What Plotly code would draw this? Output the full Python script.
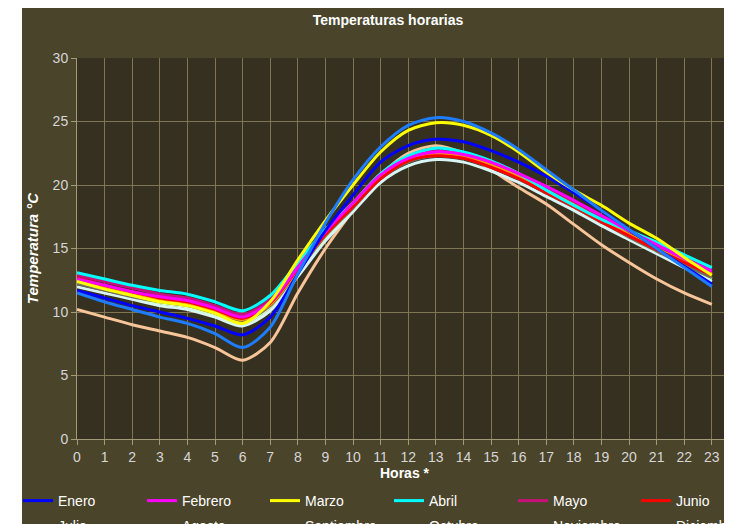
import plotly.graph_objects as go

# hours of the day
horas = list(range(24))

meses = ['Enero', 'Febrero', 'Marzo', 'Abril', 'Mayo', 'Junio',
         'Julio', 'Agosto', 'Septiembre', 'Octubre', 'Noviembre', 'Diciembre']

colores = ['#0000ff', '#ff00ff', '#ffff00', '#00ffff', '#c8107a', '#ff0000',
           '#ff9a00', '#6e6e5e', '#d4ffc8', '#d8f4f4', '#1e7cff', '#f8c49a']

enero = [11.7, 11.1, 10.5, 10.0, 9.5, 8.9, 8.2, 9.6, 13.0, 16.4, 19.2, 21.8,
         23.1, 23.6, 23.4, 22.7, 21.8, 20.7, 19.4, 18.0, 16.5, 15.0, 13.6, 12.2]
febrero = [12.6, 12.1, 11.6, 11.2, 10.9, 10.3, 9.6, 10.8, 13.5, 16.3, 18.6, 20.8,
           22.1, 22.6, 22.4, 21.8, 20.9, 19.9, 18.8, 17.6, 16.4, 15.3, 14.2, 13.2]
marzo = [12.4, 11.8, 11.3, 10.8, 10.5, 9.9, 9.1, 10.8, 14.1, 17.2, 20.0, 22.6,
         24.3, 24.9, 24.7, 23.9, 22.6, 21.0, 19.6, 18.4, 17.0, 15.8, 14.3, 12.9]
abril = [13.1, 12.6, 12.1, 11.7, 11.4, 10.8, 10.1, 11.3, 13.9, 16.5, 18.6, 20.9,
         22.3, 22.9, 22.6, 21.9, 20.9, 19.6, 18.4, 17.3, 16.4, 15.5, 14.5, 13.5]
mayo = [12.9, 12.4, 11.9, 11.4, 11.1, 10.5, 9.8, 11.0, 13.7, 16.4, 18.6, 20.9,
        22.2, 22.7, 22.5, 21.8, 20.9, 19.8, 18.7, 17.5, 16.4, 15.3, 14.3, 13.3]
junio = [12.7, 12.1, 11.6, 11.1, 10.8, 10.2, 9.5, 10.7, 13.4, 16.1, 18.3, 20.5,
         21.9, 22.3, 22.1, 21.4, 20.5, 19.4, 18.3, 17.1, 16.0, 14.9, 13.9, 12.9]
julio = [12.5, 12.0, 11.4, 11.0, 10.7, 10.1, 9.4, 10.6, 13.3, 16.1, 18.4, 20.7,
         22.0, 22.5, 22.3, 21.6, 20.7, 19.6, 18.5, 17.3, 16.1, 15.0, 14.0, 13.0]
agosto = [12.2, 11.7, 11.2, 10.8, 10.5, 9.9, 9.3, 10.5, 13.2, 16.0, 18.2, 20.5,
          21.8, 22.3, 22.1, 21.4, 20.5, 19.4, 18.3, 17.1, 15.9, 14.8, 13.7, 12.7]
septiembre = [12.3, 11.8, 11.2, 10.7, 10.4, 9.8, 9.1, 10.4, 13.1, 15.9, 18.2, 20.6,
              22.0, 22.5, 22.3, 21.5, 20.6, 19.5, 18.3, 17.1, 15.9, 14.8, 13.7, 12.6]
octubre = [12.0, 11.5, 11.0, 10.5, 10.2, 9.6, 8.9, 10.1, 12.8, 15.6, 17.9, 20.2,
           21.5, 22.0, 21.8, 21.1, 20.2, 19.1, 18.0, 16.8, 15.7, 14.6, 13.5, 12.4]
noviembre = [11.5, 10.8, 10.2, 9.6, 9.1, 8.3, 7.2, 8.8, 13.0, 17.0, 20.4, 23.0,
             24.7, 25.3, 25.0, 24.1, 22.8, 21.2, 19.6, 18.0, 16.5, 15.0, 13.5, 12.0]
diciembre = [10.2, 9.6, 9.0, 8.5, 8.0, 7.2, 6.2, 7.6, 11.5, 15.0, 18.0, 20.8,
             22.5, 23.1, 22.5, 21.2, 19.8, 18.5, 16.9, 15.3, 13.9, 12.6, 11.5, 10.6]

series = [enero, febrero, marzo, abril, mayo, junio,
          julio, agosto, septiembre, octubre, noviembre, diciembre]

FONDO = '#4a442b'
FONDO_PLOT = '#35301f'
REJILLA = '#7e7553'
EJE = '#a39a78'
TEXTO = '#d6d6d6'
FUENTE = 'Liberation Sans, Arial, sans-serif'

# the page adds an 8px body margin, so the figure is 8px smaller than the window
ANCHO, ALTO = 724, 516
M_IZQ, M_SUP, M_INF = 69, 50, 85
plot_w = ANCHO - M_IZQ
plot_h = ALTO - M_SUP - M_INF

def px_x(p):
    # figure pixel -> paper x
    return (p - M_IZQ) / plot_w

def px_y(p):
    # figure pixel -> paper y
    return (ALTO - M_INF - p) / plot_h

fig = go.Figure()

# one legend per column: month i on top, month i+6 below
legend_ids = ['legend', 'legend2', 'legend3', 'legend4', 'legend5', 'legend6']

# draw the light months first so the strong colours stay on top
orden = [11, 9, 8, 7, 6, 5, 4, 3, 1, 0, 2, 10]
for i in orden:
    fig.add_trace(go.Scatter(
        x=horas, y=series[i], name=meses[i], mode='lines',
        line=dict(color=colores[i], width=3, shape='spline', smoothing=0.8),
        legend=legend_ids[i % 6], legendgroup=meses[i], legendrank=i + 1))

col_left = [10, 134, 257, 381, 505, 628]
leg_cfg = {}
for k, lid in enumerate(legend_ids):
    leg_cfg[lid] = dict(orientation='v', x=px_x(col_left[k]), xanchor='left',
                        y=px_y(477), yanchor='top', bgcolor='rgba(0,0,0,0)',
                        borderwidth=0, traceorder='grouped', tracegroupgap=4,
                        itemwidth=30,
                        font=dict(family=FUENTE, size=14, color='#ffffff'))

fig.update_layout(
    width=ANCHO, height=ALTO,
    margin=dict(l=M_IZQ, r=0, t=M_SUP, b=M_INF, autoexpand=False),
    paper_bgcolor=FONDO,
    plot_bgcolor=FONDO_PLOT,
    font=dict(family=FUENTE, size=13, color=TEXTO),
    title=dict(text='<b>Temperaturas horarias</b>', x=380 / ANCHO, xanchor='center',
               y=1 - 12 / ALTO, yanchor='middle',
               font=dict(family=FUENTE, size=14, color='#ffffff')),
    showlegend=True,
    **leg_cfg,
)

fig.update_xaxes(
    range=[0, 23.73], tickmode='linear', tick0=0, dtick=1,
    showgrid=True, gridcolor=REJILLA, gridwidth=1,
    showline=True, linecolor=EJE, linewidth=1,
    ticks='outside', ticklen=5, tickcolor=EJE,
    tickfont=dict(family=FUENTE, size=14, color=TEXTO),
    zeroline=False,
    title=dict(text='<b>Horas *</b>', standoff=2,
               font=dict(family=FUENTE, size=14, color='#ffffff')),
)
fig.update_yaxes(
    range=[0, 30], tickmode='linear', tick0=0, dtick=5,
    showgrid=True, gridcolor=REJILLA, gridwidth=1,
    showline=True, linecolor=EJE, linewidth=1,
    ticks='outside', ticklen=5, tickcolor=EJE,
    tickfont=dict(family=FUENTE, size=14, color=TEXTO),
    zeroline=False,
    title=dict(text='<b><i>Temperatura °C</i></b>', standoff=10,
               font=dict(family=FUENTE, size=15, color='#ffffff')),
)

# white strip of the page on the left of the original chart
fig.add_shape(type='rect', xref='paper', yref='paper', layer='below',
              x0=px_x(-5), x1=px_x(14), y0=px_y(ALTO + 5), y1=px_y(-5),
              fillcolor='#ffffff', line=dict(width=0))

fig.write_html("out.html")
